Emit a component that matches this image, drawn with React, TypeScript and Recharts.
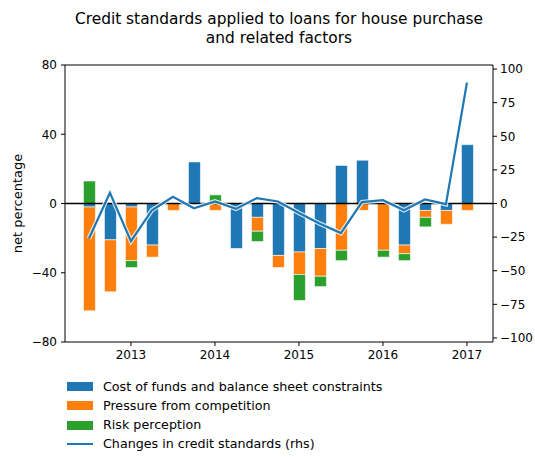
import React from 'react';
import {
  ComposedChart,
  Bar,
  Line,
  XAxis,
  YAxis,
  ReferenceLine,
} from 'recharts';

const quarters = [
  '2012Q3', '2012Q4', '2013Q1', '2013Q2', '2013Q3', '2013Q4', '2014Q1', '2014Q2',
  '2014Q3', '2014Q4', '2015Q1', '2015Q2', '2015Q3', '2015Q4', '2016Q1', '2016Q2',
  '2016Q3', '2016Q4', '2017Q1',
];
const costOfFunds = [-2, -21, -2, -24, 0, 24, 0, -26, -8, -30, -28, -26, 22, 25, 0, -24, -4, -4, 34];
const competition = [-60, -30, -31, -7, -4, 0, -4, 0, -8, -7, -13, -16, -27, -4, -27, -5, -4, -8, -4];
const riskPerception = [13, 0, -4, 0, 0, 0, 5, 0, -6, 0, -15, -6, -6, 0, -4, -4, -5.5, 0, 0];
const creditStandards = [-26, 8, -28, -5, 5, -3.5, 1.5, -4, 4, 1.5, -7, -15, -22, 1, 2.5, -5, 3, -0.5, 90];

const yearTicks = ['2013Q1', '2014Q1', '2015Q1', '2016Q1', '2017Q1'];
const yearLabels = ['2013', '2014', '2015', '2016', '2017'];
const leftTicks = [-80, -40, 0, 40, 80];
const rightTicks = [-100, -75, -50, -25, 0, 25, 50, 75, 100];

const BLUE = '#1f77b4';
const ORANGE = '#ff7f0e';
const GREEN = '#2ca02c';
const FONT = '"DejaVu Sans", sans-serif';

const data = quarters.map((q, i) => ({
  idx: i,
  q,
  cost: costOfFunds[i],
  comp: competition[i],
  risk: riskPerception[i],
  cs: creditStandards[i],
}));

const yearTickIdx = yearTicks.map((t) => quarters.indexOf(t));
const minus = (v: number) => String(v).replace('-', '\u2212');

const legendItems = [
  { label: 'Cost of funds and balance sheet constraints', color: BLUE, type: 'patch' },
  { label: 'Pressure from competition', color: ORANGE, type: 'patch' },
  { label: 'Risk perception', color: GREEN, type: 'patch' },
  { label: 'Changes in credit standards (rhs)', color: BLUE, type: 'line' },
];

export default function App() {
  const tickStyle = { fontSize: 12, fill: '#000', fontFamily: FONT };
  return (
    <div
      style={{
        position: 'absolute',
        left: 0,
        top: 0,
        width: 535,
        height: 457,
        background: '#fff',
        fontFamily: FONT,
      }}
    >
      <div
        style={{
          position: 'absolute',
          left: 29,
          width: 500,
          top: 9.5,
          textAlign: 'center',
          fontSize: 15.4,
          lineHeight: '19px',
          color: '#000',
        }}
      >
        Credit standards applied to loans for house purchase
        <br />
        and related factors
      </div>
      <ComposedChart
        width={535}
        height={457}
        data={data}
        stackOffset="sign"
        margin={{ top: 65, right: 0, left: 0, bottom: 85 }}
        style={{ fontFamily: FONT }}
      >
        <XAxis
          dataKey="idx"
          type="number"
          domain={[-1.14, 19.24]}
          allowDataOverflow
          ticks={yearTickIdx}
          tickFormatter={(v: number) => yearLabels[yearTickIdx.indexOf(v)] ?? ''}
          height={30}
          stroke="#000"
          tickSize={4}
          tickMargin={4}
          tick={tickStyle}
        />
        <YAxis
          yAxisId="left"
          orientation="left"
          domain={[-80, 80]}
          ticks={leftTicks}
          width={65}
          stroke="#000"
          tickSize={4}
          tickMargin={4}
          tick={tickStyle}
          tickFormatter={minus}
          label={{
            value: 'net percentage',
            angle: -90,
            position: 'center',
            dx: -15.5,
            style: { fontSize: 13, fill: '#000', fontFamily: FONT },
          }}
        />
        <YAxis
          yAxisId="right"
          orientation="right"
          domain={[-103, 103]}
          allowDataOverflow
          ticks={rightTicks}
          width={42}
          stroke="#000"
          tickSize={4}
          tickMargin={3}
          tick={tickStyle}
          tickFormatter={minus}
        />
        <ReferenceLine yAxisId="left" y={80} stroke="#000" strokeWidth={1} />
        <Bar yAxisId="left" dataKey="cost" stackId="a" fill={BLUE} barSize={12} stroke="#fff" strokeWidth={0.6} isAnimationActive={false} />
        <Bar yAxisId="left" dataKey="comp" stackId="a" fill={ORANGE} barSize={12} stroke="#fff" strokeWidth={0.6} isAnimationActive={false} />
        <Bar yAxisId="left" dataKey="risk" stackId="a" fill={GREEN} barSize={12} stroke="#fff" strokeWidth={0.6} isAnimationActive={false} />
        <ReferenceLine yAxisId="left" y={0} stroke="#000" strokeWidth={1.3} />
        <Line
          yAxisId="right"
          dataKey="cs"
          type="linear"
          stroke="#ffffff"
          strokeOpacity={0.8}
          strokeWidth={4.5}
          dot={false}
          activeDot={false}
          isAnimationActive={false}
          legendType="none"
        />
        <Line
          yAxisId="right"
          dataKey="cs"
          type="linear"
          stroke={BLUE}
          strokeWidth={2.2}
          dot={false}
          activeDot={false}
          isAnimationActive={false}
        />
      </ComposedChart>
      {legendItems.map((it, i) => {
        const cy = [386.7, 405.7, 425, 444][i];
        return (
          <div key={it.label}>
            {it.type === 'patch' ? (
              <div
                style={{
                  position: 'absolute',
                  left: 67,
                  top: cy - 4.5,
                  width: 26,
                  height: 9,
                  background: it.color,
                }}
              />
            ) : (
              <div
                style={{
                  position: 'absolute',
                  left: 67,
                  top: cy - 1,
                  width: 26,
                  height: 2,
                  background: it.color,
                }}
              />
            )}
            <div
              style={{
                position: 'absolute',
                left: 103,
                top: cy - 8,
                height: 16,
                lineHeight: '16px',
                fontSize: 12.7,
                color: '#000',
                whiteSpace: 'nowrap',
              }}
            >
              {it.label}
            </div>
          </div>
        );
      })}
    </div>
  );
}
